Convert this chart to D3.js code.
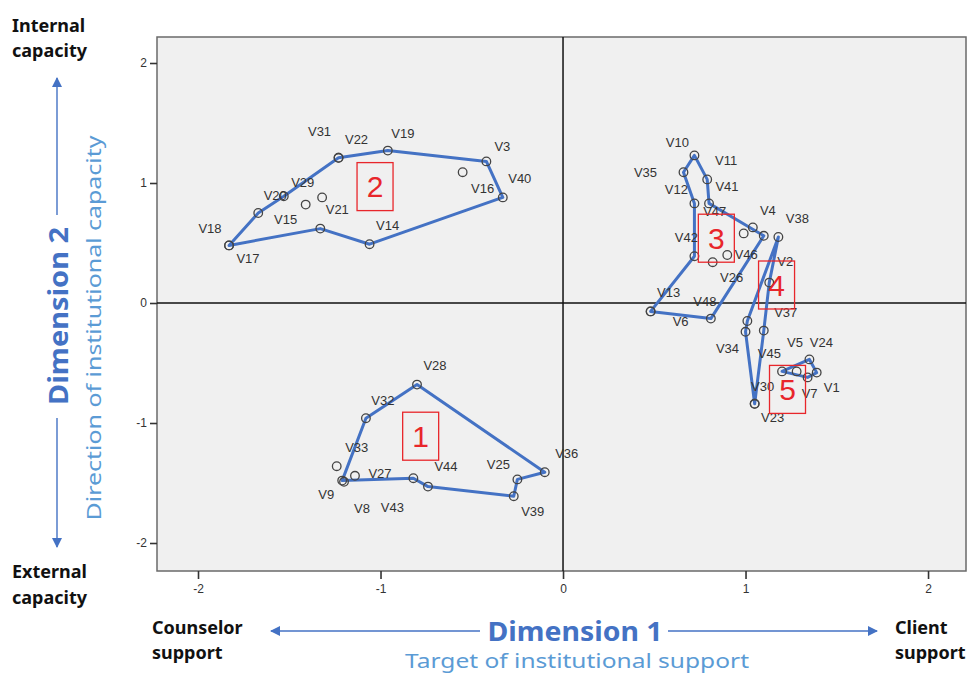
<!DOCTYPE html>
<html>
<head>
<meta charset="utf-8">
<script src="https://cdn.jsdelivr.net/npm/d3@7"></script>
<style>
  body { margin: 0; background: #fff; }
  svg { display: block; }
</style>
</head>
<body>
<div id="chart"></div>
<script>
// MDS object coordinates (dimension 1, dimension 2) and cluster membership
const names = ["V28","V32","V33","V9","V8","V27","V43","V44","V25","V36","V39",
  "V18","V17","V20","V29","V15","p50","V21","V22","V31","V19","V3","V16","V40","V14",
  "V10","V35","V11","V12","V41","V47","V4","p51","V46","V26","V42","V13","V6","V48",
  "V38","V2","V37","V45","V34","V30","V23",
  "V5","p52","V24","V1","V7"];
const dim1 = [-0.80,-1.08,-1.24,-1.21,-1.20,-1.14,-0.82,-0.74,-0.25,-0.10,-0.27,
  -1.83,-1.83,-1.67,-1.53,-1.41,-1.32,-1.33,-1.23,-1.23,-0.96,-0.42,-0.55,-0.33,-1.06,
  0.72,0.66,0.79,0.72,0.80,0.99,1.04,1.10,0.90,0.82,0.72,0.48,0.48,0.81,
  1.18,1.13,1.10,1.01,1.00,1.05,1.05,
  1.20,1.28,1.35,1.39,1.34];
const dim2 = [-0.68,-0.96,-1.36,-1.48,-1.49,-1.44,-1.46,-1.53,-1.47,-1.41,-1.61,
  0.48,0.48,0.75,0.89,0.82,0.88,0.62,1.21,1.21,1.27,1.18,1.09,0.88,0.49,
  1.23,1.09,1.03,0.83,0.83,0.58,0.63,0.56,0.40,0.34,0.39,-0.07,-0.07,-0.13,
  0.55,0.17,-0.23,-0.15,-0.24,-0.84,-0.84,
  -0.57,-0.57,-0.47,-0.58,-0.62];
const group = [1,1,1,1,1,1,1,1,1,1,1,
  2,2,2,2,2,2,2,2,2,2,2,2,2,2,
  3,3,3,3,3,3,3,3,3,3,3,3,3,3,
  4,4,4,4,4,4,4,
  5,5,5,5,5];

// outline of each cluster, as point names in drawing order
const outlines = [
  ["V28","V32","V9","V43","V44","V39","V25","V36"],
  ["V18","V20","V29","V22","V19","V3","V40","V14","V21"],
  ["V10","V11","V41","p51","V48","V13","V42","V12","V35"],
  ["V38","V45","V34","V23","V37","V2"],
  ["V5","V24","V1","V7"]
];

// numbered cluster markers (centre in data units)
const clusterNo = ["1","2","3","4","5"];
const clusterX = [-0.78,-1.03,0.84,1.17,1.23];
const clusterY = [-1.11,0.97,0.54,0.15,-0.72];

const xTicks = [-2,-1,0,1,2];
const yTicks = [-2,-1,0,1,2];

// label placement next to each point (pixels)
const labelAt = {
  V18:[-19,-17],V17:[19,13],V20:[17,-18],V29:[19,-14],V15:[-20,15],V21:[17,-19],
  V31:[-19,-26],V22:[18,-18],V19:[15,-17],V3:[16,-15],V16:[20,16],V40:[17,-19],V14:[18,-19],
  V28:[18,-19],V32:[17,-18],V33:[20,-19],V27:[25,-2],V44:[18,-20],V25:[-19,-15],
  V36:[22,-19],V9:[-16,14],V8:[18,27],V43:[-21,29],V39:[19,15],
  V10:[-17,-13],V35:[-38,0],V11:[19,-19],V12:[-18,-14],V41:[18,-17],V47:[-29,-22],
  V4:[15,-17],V42:[-8,-19],V46:[19,-1],V26:[19,15],V13:[18,-19],V48:[-6,-17],V6:[30,10],
  V38:[19,-19],V2:[16,-21],V37:[22,-18],V34:[-18,17],V45:[22,32],V30:[8,-17],V23:[18,14],
  V5:[13,-29],V24:[12,-17],V1:[15,15],V7:[2,16]
};

const W = 971, H = 673;
const plot = { left: 157, right: 966, top: 37, bottom: 571 };
const blue = "#4472c4", lightBlue = "#5b9bd5", red = "#e8262b";

const x = d3.scaleLinear().domain([-2.2247, 2.208]).range([plot.left, plot.right]);
const y = d3.scaleLinear().domain([-2.2333, 2.2167]).range([plot.bottom, plot.top]);

const pts = names.map((n, i) => ({ name: n, x: dim1[i], y: dim2[i], g: group[i] }));
const byName = new Map(pts.map(p => [p.name, p]));

const svg = d3.select("#chart").append("svg")
  .attr("width", W).attr("height", H)
  .attr("viewBox", [0, 0, W, H].join(" "));

// plot area
svg.append("rect")
  .attr("x", plot.left).attr("y", plot.top)
  .attr("width", plot.right - plot.left).attr("height", plot.bottom - plot.top)
  .attr("fill", "#f0f0f0").attr("stroke", "#6a6a6a").attr("stroke-width", 1.5);

// axes (plain hyphen for negatives, as SPSS prints them)
const yAxis = svg.append("g")
  .attr("transform", "translate(" + plot.left + ",0)")
  .call(d3.axisLeft(y).tickValues(yTicks).tickSize(7).tickPadding(3).tickFormat(d => String(d)));
const xAxis = svg.append("g")
  .attr("transform", "translate(0," + plot.bottom + ")")
  .call(d3.axisBottom(x).tickValues(xTicks).tickSize(8).tickPadding(5).tickFormat(d => String(d)));
[xAxis, yAxis].forEach(a => {
  a.select(".domain").remove();
  a.selectAll(".tick line").attr("stroke", "#333").attr("stroke-width", 1.6);
  a.selectAll(".tick text").attr("fill", "#333")
    .style("font", "12px 'Liberation Sans', Arial, sans-serif");
});

// reference lines through the origin
svg.append("line")
  .attr("x1", x(0)).attr("x2", x(0)).attr("y1", plot.top).attr("y2", plot.bottom)
  .attr("stroke", "#111").attr("stroke-width", 1.5);
svg.append("line")
  .attr("x1", plot.left).attr("x2", plot.right).attr("y1", y(0)).attr("y2", y(0))
  .attr("stroke", "#111").attr("stroke-width", 1.5);

// cluster outlines
const line = d3.line()
  .x(p => x(p.x)).y(p => y(p.y))
  .curve(d3.curveLinearClosed);
svg.append("g").selectAll("path")
  .data(outlines)
  .enter().append("path")
  .attr("d", o => line(o.map(n => byName.get(n))))
  .attr("fill", "none").attr("stroke", blue)
  .attr("stroke-width", 3).attr("stroke-linejoin", "round");

// points
svg.append("g").selectAll("circle")
  .data(pts)
  .enter().append("circle")
  .attr("cx", p => x(p.x)).attr("cy", p => y(p.y))
  .attr("r", 4.3)
  .attr("fill", "none").attr("stroke", "#444").attr("stroke-width", 1.3);

// point labels
svg.append("g").selectAll("text")
  .data(pts.filter(p => labelAt[p.name]))
  .enter().append("text")
  .attr("x", p => x(p.x) + labelAt[p.name][0])
  .attr("y", p => y(p.y) + labelAt[p.name][1])
  .attr("text-anchor", "middle").attr("dominant-baseline", "central")
  .attr("fill", "#333")
  .style("font", "13px 'Liberation Sans', Arial, sans-serif")
  .text(p => p.name);

// numbered cluster boxes
const boxes = svg.append("g").selectAll("g")
  .data(clusterNo.map((c, i) => ({ c: c, x: clusterX[i], y: clusterY[i] })))
  .enter().append("g")
  .attr("transform", d => "translate(" + x(d.x) + "," + y(d.y) + ")");
boxes.append("rect")
  .attr("x", -18).attr("y", -24).attr("width", 36).attr("height", 48)
  .attr("fill", "none").attr("stroke", red).attr("stroke-width", 1.3);
boxes.append("text")
  .attr("text-anchor", "middle").attr("dominant-baseline", "central")
  .attr("fill", red)
  .style("font", "30px 'Liberation Sans', Arial, sans-serif")
  .text(d => d.c);

// direction annotations
const defs = svg.append("defs");
defs.append("marker")
  .attr("id", "head").attr("viewBox", "0 0 10 10")
  .attr("refX", 9).attr("refY", 5)
  .attr("markerWidth", 10).attr("markerHeight", 10)
  .attr("markerUnits", "userSpaceOnUse")
  .attr("orient", "auto")
  .append("path").attr("d", "M0,0 L10,5 L0,10 Z").attr("fill", blue);

function arrow(x1, y1, x2, y2) {
  svg.append("line")
    .attr("x1", x1).attr("y1", y1).attr("x2", x2).attr("y2", y2)
    .attr("stroke", blue).attr("stroke-width", 1.4)
    .attr("marker-end", "url(#head)");
}
arrow(57, 215, 57, 78);
arrow(57, 418, 57, 547);
arrow(480, 631, 271, 631);
arrow(668, 631, 877, 631);

const bold = "bold 18px 'Noto Sans', 'Open Sans', sans-serif";
function note(tx, ty, t, font, fill) {
  svg.append("text").attr("x", tx).attr("y", ty)
    .attr("fill", fill || "#111").style("font", font).text(t);
}
note(12, 32, "Internal", bold);
note(12, 57, "capacity", bold);
note(12, 578, "External", bold);
note(12, 604, "capacity", bold);
note(152, 634, "Counselor", bold);
note(152, 659, "support", bold);
note(895, 634, "Client", bold);
note(895, 659, "support", bold);

function rotated(cx, cy, t, size, weight, fill, len) {
  svg.append("text")
    .attr("transform", "translate(" + cx + "," + cy + ") rotate(-90)")
    .attr("text-anchor", "middle").attr("dominant-baseline", "central")
    .attr("textLength", len).attr("lengthAdjust", "spacingAndGlyphs")
    .attr("fill", fill)
    .style("font", weight + " " + size + "px 'Noto Sans', 'Open Sans', sans-serif")
    .text(t);
}
rotated(57, 316, "Dimension 2", 27, "bold", blue, 178);
rotated(93, 328, "Direction of institutional capacity", 20, "normal", lightBlue, 385);

function flat(cx, cy, t, size, weight, fill, len) {
  svg.append("text")
    .attr("x", cx).attr("y", cy)
    .attr("text-anchor", "middle").attr("dominant-baseline", "central")
    .attr("textLength", len).attr("lengthAdjust", "spacingAndGlyphs")
    .attr("fill", fill)
    .style("font", weight + " " + size + "px 'Noto Sans', 'Open Sans', sans-serif")
    .text(t);
}
flat(575, 630, "Dimension 1", 27, "bold", blue, 175);
flat(577, 660, "Target of institutional support", 20, "normal", lightBlue, 344);
</script>
</body>
</html>
